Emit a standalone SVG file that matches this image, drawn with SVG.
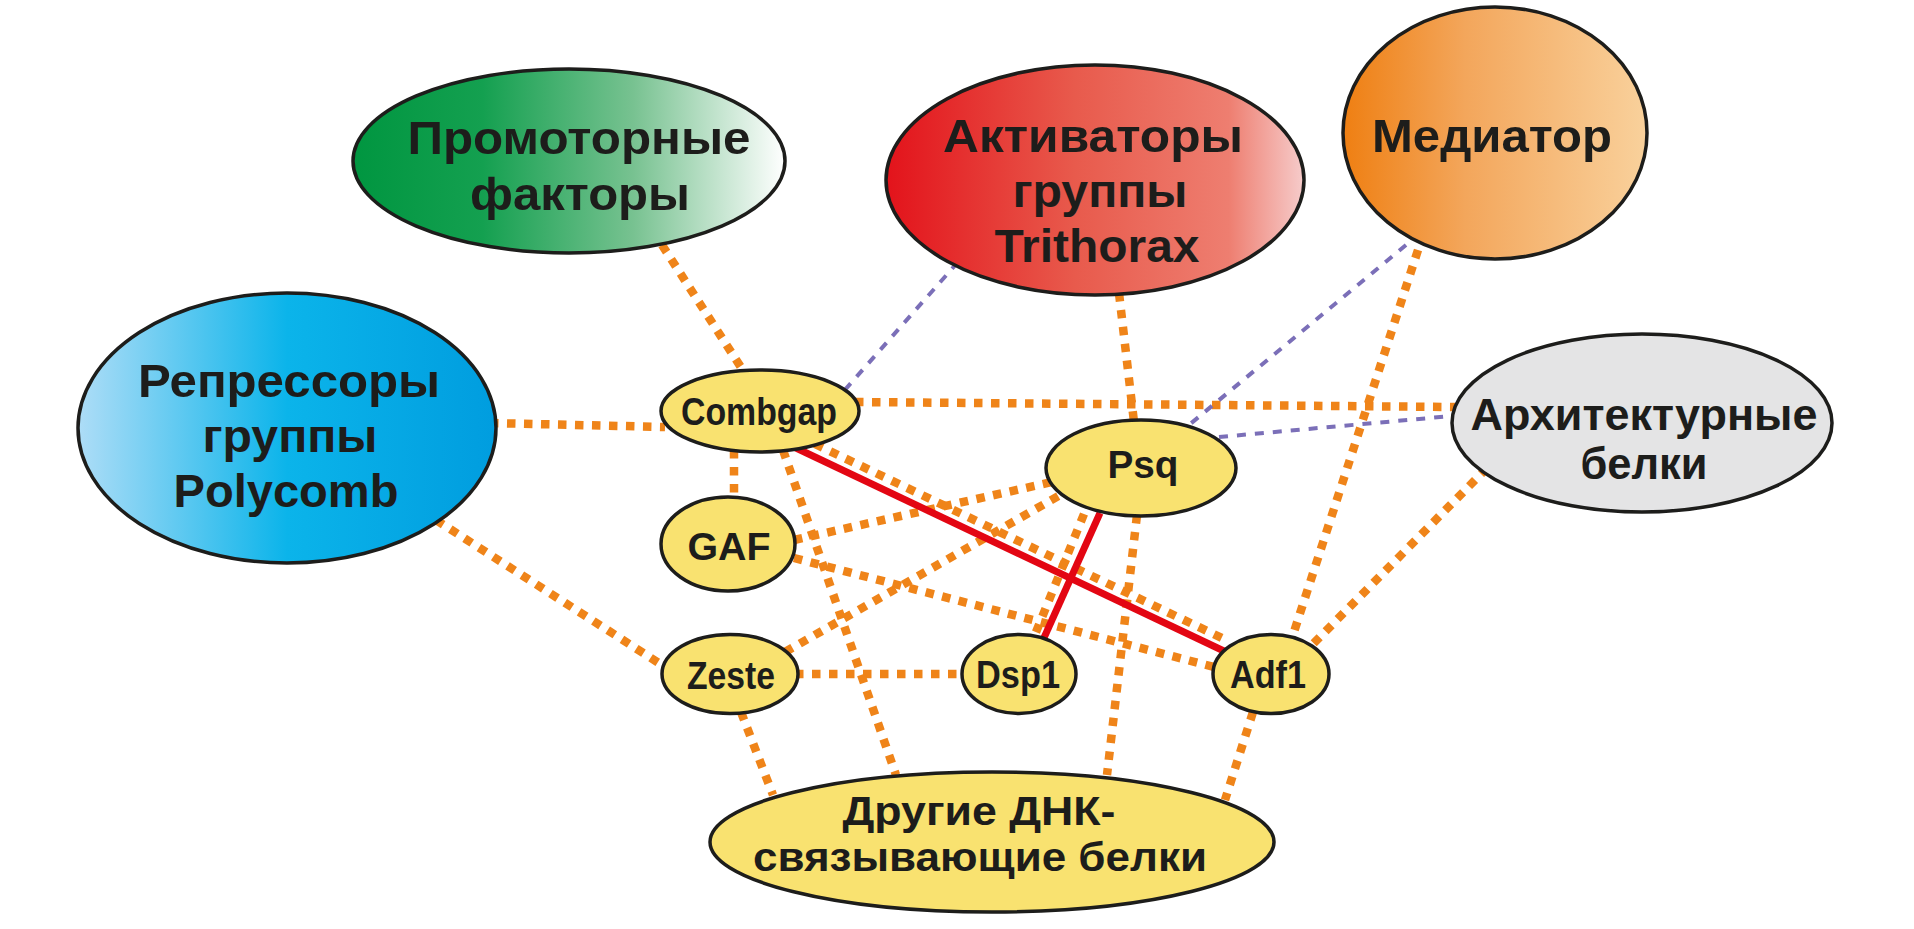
<svg xmlns="http://www.w3.org/2000/svg" width="1914" height="929" viewBox="0 0 1914 929">
<defs>
<linearGradient id="gGreen" x1="0" y1="0" x2="1" y2="0">
<stop offset="0" stop-color="#009640"/>
<stop offset="0.3" stop-color="#14A050"/>
<stop offset="0.65" stop-color="#78C291"/>
<stop offset="1" stop-color="#FFFFFF"/>
</linearGradient>
<linearGradient id="gBlue" x1="0" y1="0" x2="1" y2="0">
<stop offset="0" stop-color="#AEDDF7"/>
<stop offset="0.5" stop-color="#0BB4EA"/>
<stop offset="1" stop-color="#009DDF"/>
</linearGradient>
<linearGradient id="gRed" x1="0" y1="0" x2="1" y2="0">
<stop offset="0" stop-color="#E3131B"/>
<stop offset="0.45" stop-color="#E85A4C"/>
<stop offset="0.82" stop-color="#EE7E70"/>
<stop offset="1" stop-color="#F6CCCB"/>
</linearGradient>
<linearGradient id="gOrange" x1="0" y1="0" x2="1" y2="0">
<stop offset="0" stop-color="#EF7F12"/>
<stop offset="0.4" stop-color="#F3A65B"/>
<stop offset="1" stop-color="#F9D19C"/>
</linearGradient>
</defs>
<style>
.o{stroke:#EF8419;stroke-width:8.5;stroke-dasharray:8.5 8.5;fill:none}
.p{stroke:#7B6FB8;stroke-width:4;stroke-dasharray:9 9;fill:none}
.r{stroke:#E30613;stroke-width:7;fill:none}
.n{stroke:#1D1D1B;stroke-width:3.5}
.y{fill:#F9E270}
text{font-family:"Liberation Sans",Arial,sans-serif;font-weight:bold;fill:#1D1D1B;text-anchor:middle}
.big{font-size:47px}
.mid{font-size:44px}
.dna{font-size:41px}
.sm{font-size:38px}
</style>
<g id="connectors">
<line class="o" x1="662" y1="245" x2="744" y2="372"/>
<line class="o" x1="490" y1="423" x2="665" y2="427"/>
<line class="o" x1="855" y1="402" x2="1455" y2="407"/>
<line class="o" x1="734" y1="450" x2="734" y2="500"/>
<line class="o" x1="783" y1="450" x2="896" y2="775"/>
<line class="o" x1="815" y1="444" x2="1226" y2="640"/>
<line class="o" x1="794" y1="540" x2="1052" y2="482"/>
<line class="o" x1="785" y1="652" x2="1062" y2="494"/>
<line class="o" x1="795" y1="674" x2="965" y2="674"/>
<line class="o" x1="741" y1="712" x2="773" y2="795"/>
<line class="o" x1="1084" y1="514" x2="1034" y2="637"/>
<line class="o" x1="1137" y1="515" x2="1107" y2="775"/>
<line class="o" x1="1119" y1="293" x2="1134" y2="422"/>
<line class="o" x1="1418" y1="250" x2="1292" y2="638"/>
<line class="o" x1="1487" y1="468" x2="1312" y2="645"/>
<line class="o" x1="1253" y1="712" x2="1225" y2="800"/>
<line class="o" x1="794" y1="558" x2="1214" y2="667"/>
<line class="o" x1="436" y1="520" x2="665" y2="667"/>
<line class="r" x1="796" y1="448" x2="1226" y2="652"/>
<line class="r" x1="1100" y1="513" x2="1043" y2="640"/>
<line class="p" x1="958" y1="262" x2="843" y2="392"/>
<line class="p" x1="1406" y1="245" x2="1189" y2="425"/>
<line class="p" x1="1219" y1="437" x2="1452" y2="416"/>
</g>
<g id="node-promoter">
<ellipse class="n" cx="569" cy="161" rx="216" ry="92" fill="url(#gGreen)"/>
<text class="big" x="579" y="154" textLength="343" lengthAdjust="spacingAndGlyphs">Промоторные</text>
<text class="big" x="580" y="210" textLength="220" lengthAdjust="spacingAndGlyphs">факторы</text>
</g>
<g id="node-polycomb">
<ellipse class="n" cx="287" cy="428" rx="209" ry="135" fill="url(#gBlue)"/>
<text class="big" x="289" y="397" textLength="302" lengthAdjust="spacingAndGlyphs">Репрессоры</text>
<text class="big" x="290" y="452" textLength="175" lengthAdjust="spacingAndGlyphs">группы</text>
<text class="big" x="286" y="507" textLength="225" lengthAdjust="spacingAndGlyphs">Polycomb</text>
</g>
<g id="node-trithorax">
<ellipse class="n" cx="1095" cy="180" rx="209" ry="115" fill="url(#gRed)"/>
<text class="big" x="1093" y="152" textLength="300" lengthAdjust="spacingAndGlyphs">Активаторы</text>
<text class="big" x="1100" y="207" textLength="175" lengthAdjust="spacingAndGlyphs">группы</text>
<text class="big" x="1097" y="262" textLength="205" lengthAdjust="spacingAndGlyphs">Trithorax</text>
</g>
<g id="node-mediator">
<ellipse class="n" cx="1495" cy="133" rx="152" ry="126" fill="url(#gOrange)"/>
<text class="big" x="1492" y="152" textLength="240" lengthAdjust="spacingAndGlyphs">Медиатор</text>
</g>
<g id="node-architectural">
<ellipse class="n" cx="1642" cy="423" rx="190" ry="89" fill="#E4E4E5"/>
<text class="mid" x="1644" y="430" textLength="347" lengthAdjust="spacingAndGlyphs">Архитектурные</text>
<text class="mid" x="1644" y="479" textLength="127" lengthAdjust="spacingAndGlyphs">белки</text>
</g>
<g id="node-combgap">
<ellipse class="n y" cx="760" cy="411" rx="99" ry="41"/>
<text class="sm" x="759" y="425" textLength="156" lengthAdjust="spacingAndGlyphs">Combgap</text>
</g>
<g id="node-psq">
<ellipse class="n y" cx="1141" cy="468" rx="95" ry="48"/>
<text class="sm" x="1143" y="478" textLength="71" lengthAdjust="spacingAndGlyphs">Psq</text>
</g>
<g id="node-gaf">
<ellipse class="n y" cx="728" cy="544" rx="67" ry="47"/>
<text class="sm" x="729" y="560" textLength="83" lengthAdjust="spacingAndGlyphs">GAF</text>
</g>
<g id="node-zeste">
<ellipse class="n y" cx="730" cy="674" rx="68" ry="39.5"/>
<text class="sm" x="731" y="689" textLength="88" lengthAdjust="spacingAndGlyphs">Zeste</text>
</g>
<g id="node-dsp1">
<ellipse class="n y" cx="1019" cy="674" rx="57" ry="39.5"/>
<text class="sm" x="1018" y="688" textLength="84" lengthAdjust="spacingAndGlyphs">Dsp1</text>
</g>
<g id="node-adf1">
<ellipse class="n y" cx="1271" cy="674" rx="58" ry="39.5"/>
<text class="sm" x="1268" y="688" textLength="76" lengthAdjust="spacingAndGlyphs">Adf1</text>
</g>
<g id="node-other-dna">
<ellipse class="n y" cx="992" cy="842" rx="282" ry="70"/>
<text class="dna" x="979" y="825" textLength="273" lengthAdjust="spacingAndGlyphs">Другие ДНК-</text>
<text class="dna" x="980" y="871" textLength="454" lengthAdjust="spacingAndGlyphs">связывающие белки</text>
</g>
</svg>
